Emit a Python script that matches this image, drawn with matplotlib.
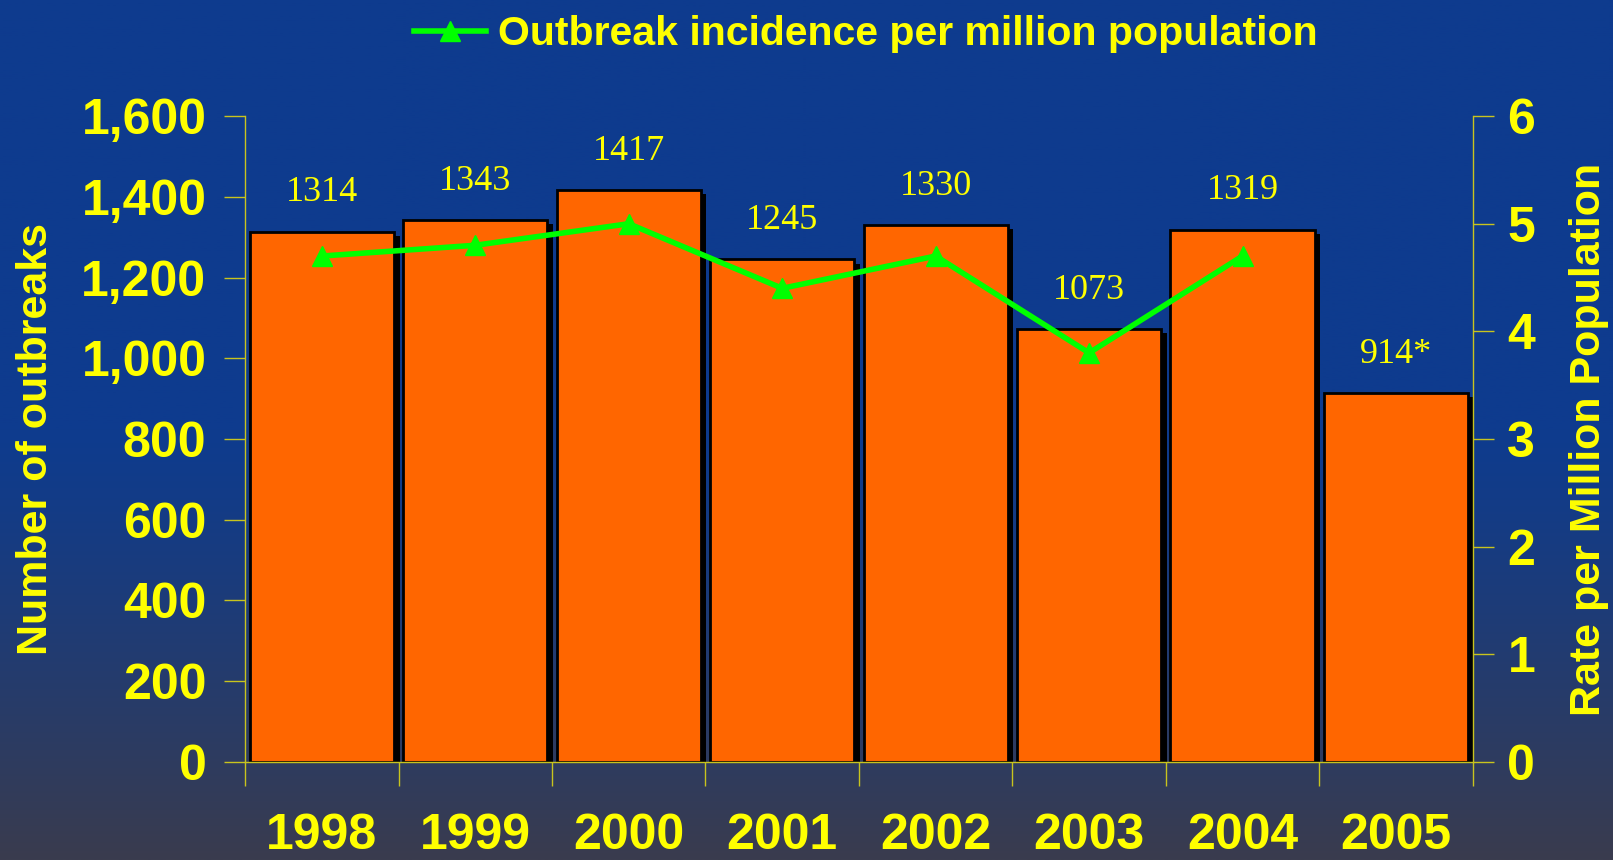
import matplotlib
matplotlib.use('Agg')
import matplotlib.pyplot as plt
import matplotlib.patheffects as pe
import numpy as np

years = ['1998', '1999', '2000', '2001', '2002', '2003', '2004', '2005']
outbreaks = [1314, 1343, 1417, 1245, 1330, 1073, 1319, 914]
bar_labels = ['1314', '1343', '1417', '1245', '1330', '1073', '1319', '914*']
rate = [4.7, 4.8, 5.0, 4.4, 4.7, 3.8, 4.7]

yellow = '#ffff00'
axis_col = '#c8c41e'

fig = plt.figure(figsize=(16.13, 8.6), dpi=100)

# background: blue fading to slate towards the bottom
bg = fig.add_axes([0, 0, 1, 1], zorder=-10)
t = np.linspace(0, 1, 400)[:, None]
top = np.array([14, 59, 142]) / 255
bot = np.array([58, 60, 78]) / 255
w = np.clip((t - 0.5) / 0.5, 0, 1) ** 1.2
grad = top * (1 - w[..., None]) + bot * w[..., None]
bg.imshow(np.repeat(grad, 2, axis=1), aspect='auto', extent=[0, 1, 0, 1])
bg.axis('off')

ax = fig.add_axes([0.152, 0.114, 0.761, 0.751])
ax.patch.set_alpha(0)
x = np.arange(len(years))
bars = ax.bar(x, outbreaks, width=0.94, color='#ff6600', edgecolor='black',
              linewidth=2, zorder=2)
for b in bars:
    b.set_path_effects([pe.SimplePatchShadow(offset=(4, -3), shadow_rgbFace='black',
                                             alpha=1), pe.Normal()])
for xi, v, lab in zip(x, outbreaks, bar_labels):
    ax.annotate(lab, (xi, v), xytext=(0, 16), textcoords='offset points',
                ha='center', va='bottom', color=yellow, fontsize=26,
                family='Liberation Serif')

ax.set_xlim(-0.5, 7.5)
ax.set_ylim(0, 1600)
ax.set_yticks(np.arange(0, 1601, 200))
ax.set_yticklabels([f'{v:,}' for v in range(0, 1601, 200)])
ax.set_xticks(np.arange(-0.5, 8, 1))
ax.set_xticklabels([])
ax.set_xticks(x, minor=True)
ax.set_xticklabels(years, minor=True)
ax.tick_params(axis='x', which='major', length=17, color=axis_col, width=1)
ax.tick_params(axis='x', which='minor', length=0, pad=37, labelsize=36,
               labelcolor=yellow)
ax.tick_params(axis='y', length=15, color=axis_col, width=1, labelsize=36,
               labelcolor=yellow, pad=13)
for lbl in ax.get_xticklabels(minor=True) + ax.get_yticklabels():
    lbl.set_fontweight('bold')
    lbl.set_family('Liberation Sans')
for s in ['top', 'right']:
    ax.spines[s].set_visible(False)
for s in ['left', 'bottom']:
    ax.spines[s].set_color(axis_col)
    ax.spines[s].set_linewidth(1)
ax.set_ylabel('Number of outbreaks', color=yellow, fontsize=31, fontweight='bold',
              family='Liberation Sans', labelpad=18)

ax2 = ax.twinx()
ax2.set_ylim(0, 6)
line, = ax2.plot(x[:len(rate)], rate, color='#00ff00', lw=4, marker='^',
                 markersize=15, label='Outbreak incidence per million population',
                 zorder=5)
ax2.tick_params(axis='y', length=15, color=axis_col, width=1, labelsize=36,
                labelcolor=yellow, pad=10)
for lbl in ax2.get_yticklabels():
    lbl.set_fontweight('bold')
    lbl.set_family('Liberation Sans')
for s in ['top', 'left', 'bottom']:
    ax2.spines[s].set_visible(False)
ax2.spines['right'].set_color(axis_col)
ax2.spines['right'].set_linewidth(1)
ax2.set_ylabel('Rate per Million Population', color=yellow, fontsize=31,
               fontweight='bold', family='Liberation Sans', labelpad=24)

leg = fig.legend(handles=[line], loc='upper center', bbox_to_anchor=(0.537, 1.025),
                 frameon=False, handlelength=1.75, handletextpad=0.3,
                 prop={'family': 'Liberation Sans', 'weight': 'bold', 'size': 29.5})
for txt in leg.get_texts():
    txt.set_color(yellow)

fig.savefig('out.png', dpi=100)
